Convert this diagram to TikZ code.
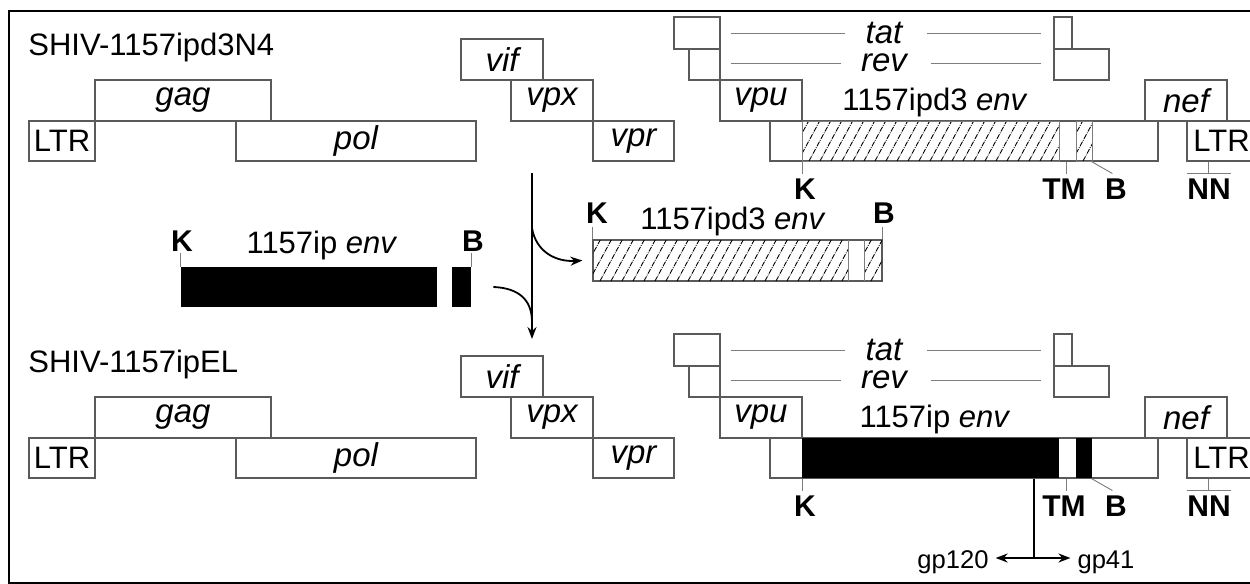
\documentclass[tikz,border=0pt]{standalone}
\usepackage{fontspec}
\setmainfont{Liberation Sans}
\usetikzlibrary{arrows.meta,positioning,fit}
\definecolor{boxgray}{RGB}{90,90,90}
\definecolor{linegray}{RGB}{125,125,125}
% diagonal hatching clipped to a box
\newcommand{\hatchfill}[4]{%
  \begin{scope}
    \clip (#1,#2) rectangle (#3,#4);
    \foreach \k in {0,...,28}
      \draw[hatch] ({#1-26+11*\k},#4) -- ++(26,-48);
  \end{scope}}

\begin{document}
\begin{tikzpicture}[x=0.5pt,y=-0.5pt,
  gene/.style={draw=boxgray,line width=0.55pt,inner sep=0},
  genetext/.style={inner sep=0,font=\fontsize{16.5}{18}\selectfont\itshape},
  lbl/.style={font=\fontsize{15.5}{18}\selectfont,inner sep=0},
  site/.style={font=\fontsize{15}{18}\selectfont\bfseries,inner sep=0},
  tick/.style={draw=linegray,line width=0.45pt},
  hatch/.style={line width=0.45pt,dash pattern=on 2.6pt off 0.6pt on 0.4pt off 0.6pt},
  flow/.style={line width=0.9pt,-{Stealth[length=6pt,width=4.5pt]}},
  stem/.style={line width=0.9pt}]
  \useasboundingbox (0,0) rectangle (1250,584);
  \draw[line width=0.6pt] (9,11) rectangle (1262,583);

  % both genomes share the same layout
  \foreach \row/\dy/\title/\envname in {1/0/SHIV-1157ipd3N4/1157ipd3,2/317/SHIV-1157ipEL/1157ip}{
    \node[lbl,anchor=base west] (title\row) at (28,{55+\dy}) {\title};
    \node[gene,fit={(95,{80+\dy}) (271,{121+\dy})}] (gag\row) {};
    \node[gene,fit={(29,{121+\dy}) (95,{161+\dy})}] (ltrl\row) {};
    \node[gene,fit={(236,{121+\dy}) (476,{161+\dy})}] (pol\row) {};
    \node[gene,fit={(461,{39+\dy}) (543,{80+\dy})}] (vif\row) {};
    \node[gene,fit={(511,{80+\dy}) (593,{121+\dy})}] (vpx\row) {};
    \node[gene,fit={(593,{121+\dy}) (674,{161+\dy})}] (vpr\row) {};
    \node[gene,fit={(674,{17+\dy}) (720,{49+\dy})}] (tatl\row) {};
    \node[gene,fit={(689,{49+\dy}) (720,{80+\dy})}] (revl\row) {};
    \node[gene,fit={(720,{80+\dy}) (802,{121+\dy})}] (vpu\row) {};
    \node[gene,fit={(770,{121+\dy}) (1158,{161+\dy})}] (envb\row) {};
    \node[gene,fit={(1054,{17+\dy}) (1072,{49+\dy})}] (tatr\row) {};
    \node[gene,fit={(1054,{49+\dy}) (1109,{80+\dy})}] (revr\row) {};
    \node[gene,fit={(1145,{80+\dy}) (1227,{121+\dy})}] (nef\row) {};
    \node[gene,fit={(1187,{121+\dy}) (1256,{161+\dy})}] (ltrr\row) {};
    \foreach \g in {gag,pol,vif,vpx,vpr,vpu,nef}
      \node[genetext] (\g lbl\row) at (\g\row) {\g};
    \node[lbl] (ltrllbl\row) at (ltrl\row) {LTR};
    \node[lbl] (ltrrlbl\row) at (ltrr\row) {LTR};
    \node[lbl,anchor=base] (envlbl\row) at (935,{110+\dy}) {\envname\ \textit{env}};
    % tat / rev exons joined by lines
    \node[genetext] (tat\row) at (884,{33+\dy}) {tat};
    \node[genetext] (rev\row) at (884,{63+\dy}) {rev};
    \draw[tick,shorten <=5pt,shorten >=10pt] (tatl\row.east |- tat\row.west) -- (tat\row.west);
    \draw[tick,shorten <=12pt,shorten >=6pt] (tat\row.east) -- (tatr\row.west |- tat\row.east);
    \draw[tick,shorten <=5pt,shorten >=10pt] (revl\row.east |- rev\row.west) -- (rev\row.west);
    \draw[tick,shorten <=12pt,shorten >=6pt] (rev\row.east) -- (revr\row.west |- rev\row.east);
    % sites
    \node[site] (K\row) at (805,{189+\dy}) {K};
    \node[site] (TM\row) at (1064,{189+\dy}) {TM};
    \node[site] (B\row) at (1116,{189+\dy}) {B};
    \node[site] (NN\row) at (1209,{189+\dy}) {NN};
    \draw[tick] (envb\row.south west) ++(33,0) -- +(0,12);
    \draw[tick] (envb\row.south west) ++(297,0) -- +(0,12);
    \draw[tick] (envb\row.south west) ++(322,0) -- +(21,12);
    \draw[tick] (ltrr\row.south west) ++(22,0) -- +(0,12);
    \draw[tick] ([yshift=2.5pt]NN\row.north west) -- ([yshift=2.5pt]NN\row.north east);
  }

  % env of the parent virus
  \hatchfill{802}{121}{1059}{161}
  \hatchfill{1076}{121}{1092}{161}
  \draw[tick] (802,121) rectangle (1059,161) (1076,121) rectangle (1092,161);
  % env of the new virus
  \fill (802,438) rectangle (1059,478);
  \fill (1076,438) rectangle (1092,478);

  % swapped fragments
  \node[site] (Kip) at (182,241) {K};
  \node[site] (Bip) at (473,241) {B};
  \node[lbl,anchor=base] (iplbl) at (322,253) {1157ip \textit{env}};
  \node[fill=black,inner sep=0,fit={(181,267) (471,307)}] (ipbar) {};
  \fill[white] (437,267) rectangle (452,307);
  \draw[tick] (ipbar.north west) -- +(0,-14);
  \draw[tick] (ipbar.north east) -- +(0,-14);

  \node[site] (Kd3) at (597,213) {K};
  \node[site] (Bd3) at (884,213) {B};
  \node[lbl,anchor=base] (d3lbl) at (733,229) {1157ipd3 \textit{env}};
  \node[gene,fit={(593,240) (882,281)}] (d3bar) {};
  \hatchfill{593}{240}{848}{281}
  \hatchfill{864}{240}{882}{281}
  \draw[tick] (848,240) -- (848,281) (864,240) -- (864,281);
  \draw[tick] (d3bar.north west) -- +(0,-12);
  \draw[tick] (d3bar.north east) -- +(0,-12);

  % exchange arrows
  \coordinate (splice) at (532,173);
  \coordinate (fork) at (532,228);
  \coordinate (spliceend) at (532,339);
  \draw[flow] (splice) -- (spliceend);
  \draw[flow] (fork) .. controls (536,252) and (556,262) .. ([xshift=-5pt]d3bar.west);
  \draw[stem] ([xshift=11pt]ipbar.east) .. controls (519,288) and (532,300) .. (532,322);

  % cleavage site
  \node[font=\fontsize{12.8}{14}\selectfont,anchor=base] (gp120) at (953,568) {gp120};
  \node[font=\fontsize{12.8}{14}\selectfont,anchor=base] (gp41) at (1106,568) {gp41};
  \coordinate (cut) at (1034,558);
  \draw[stem] (cut |- envb2.south) -- (cut);
  \draw[flow] (cut) -- (cut -| gp120.east);
  \draw[flow] (cut) -- (cut -| gp41.west);
\end{tikzpicture}
\end{document}
